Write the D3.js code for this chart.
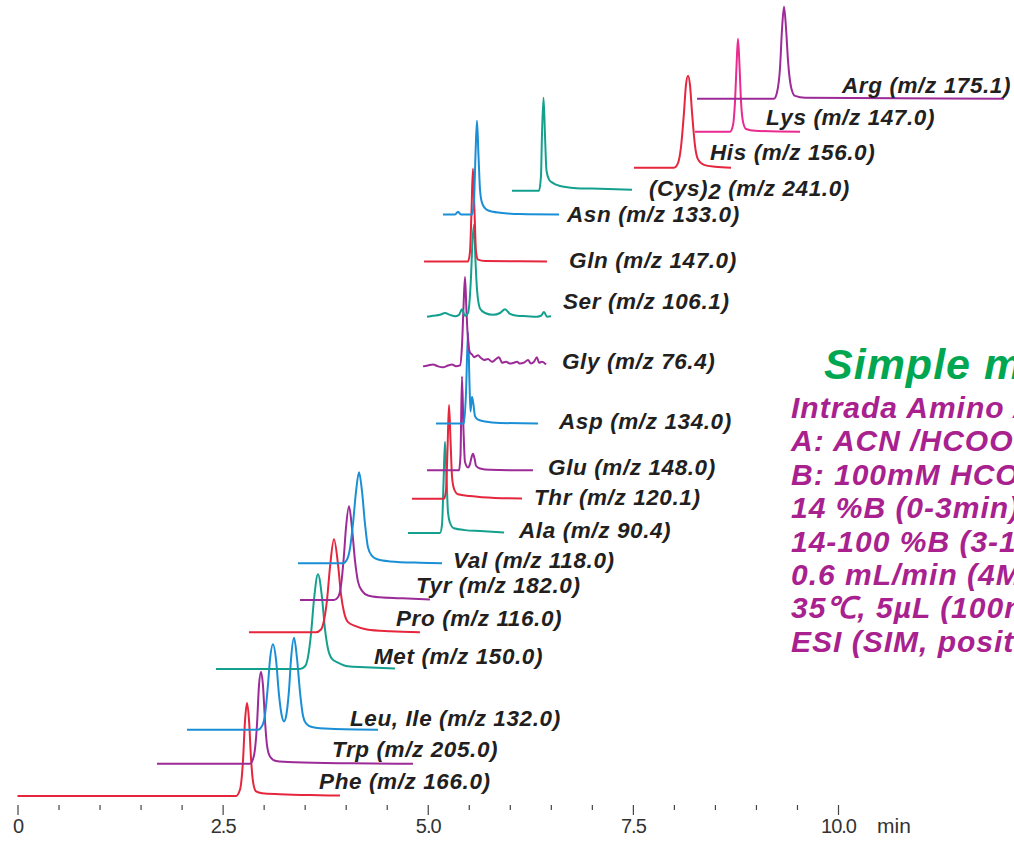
<!DOCTYPE html>
<html>
<head>
<meta charset="utf-8">
<script src="https://cdn.jsdelivr.net/npm/d3@7"></script>
<style>
  body { margin: 0; background: #fff; }
  svg { display: block; overflow: hidden; }
</style>
</head>
<body>
<svg id="chart" width="1014" height="841"></svg>
<script>
// ---- data (time in min, intensity in % of full scale) ----
const compounds = ["Phe", "Trp", "Leu, Ile", "Met", "Pro", "Tyr", "Val", "Ala", "Thr", "Glu",
                   "Asp", "Gly", "Ser", "Gln", "Asn", "(Cys)2", "His", "Lys", "Arg"];
const mzValues = ["166.0", "205.0", "132.0", "150.0", "116.0", "182.0", "118.0", "90.4", "120.1", "148.0",
                  "134.0", "76.4", "106.1", "147.0", "133.0", "241.0", "156.0", "147.0", "175.1"];
// stacking offset of each trace, same units as intensity
const baselineOffsets = [0, 35, 72, 138, 178, 213, 253, 286, 323, 354,
                         405, 467, 521, 581, 632, 658, 683, 722, 758];

const phe = [[0.0,0],[2.663,0],[2.712,7],[2.748,38],[2.773,82],[2.797,101],[2.822,82],[2.846,41],[2.870,16],[2.907,5],[2.980,3],[3.199,2],[3.565,1],[3.931,0.5]];
const trp = [[1.700,0],[2.834,0],[2.882,9],[2.919,43],[2.943,85],[2.968,100],[2.992,85],[3.017,46],[3.041,20],[3.077,8],[3.151,3],[3.382,1.6],[4.052,0.5],[4.820,0]];
const leuIle = [[2.066,0],[2.931,0],[2.980,4],[3.016,16],[3.053,49],[3.077,76],[3.114,93],[3.151,76],[3.187,38],[3.224,14],[3.248,9],[3.272,14],[3.309,43],[3.333,76],[3.370,100],[3.406,78],[3.443,41],[3.480,15],[3.516,7],[3.589,3],[3.809,1],[4.394,0]];
const met = [[2.419,0],[3.443,0],[3.504,3],[3.540,13],[3.577,38],[3.614,76],[3.662,103],[3.711,78],[3.748,43],[3.784,22],[3.833,11],[3.906,7],[4.028,3],[4.235,2],[4.601,0.5]];
const pro = [[2.821,0],[3.638,0],[3.699,3],[3.736,13],[3.772,35],[3.809,71],[3.857,101],[3.906,74],[3.943,41],[3.979,22],[4.028,11],[4.113,7],[4.259,3],[4.540,1],[4.905,0]];
const tyr = [[3.443,0],[3.857,0],[3.906,3],[3.943,16],[3.979,49],[4.003,78],[4.040,102],[4.077,78],[4.113,43],[4.150,20],[4.199,10],[4.272,5],[4.418,3],[4.662,2],[5.027,0.5]];
const val = [[3.419,0],[3.967,0],[4.016,4],[4.052,16],[4.089,43],[4.126,78],[4.162,99],[4.199,78],[4.235,43],[4.272,17],[4.320,8],[4.394,4],[4.540,2],[4.905,0.5],[5.174,0]];
const ala = [[4.759,0],[5.149,0],[5.174,9],[5.192,54],[5.210,99],[5.229,60],[5.247,22],[5.271,11],[5.320,5],[5.454,3],[5.637,2],[5.930,0.5]];
const thr = [[4.808,0],[5.198,0],[5.222,9],[5.241,54],[5.259,102],[5.277,65],[5.296,24],[5.320,11],[5.369,5],[5.515,3],[5.820,1],[6.149,0.5]];
const glu = [[4.991,0],[5.381,0],[5.399,16],[5.417,102],[5.436,43],[5.454,9],[5.491,3],[5.515,7],[5.533,14],[5.551,18],[5.570,13],[5.588,5],[5.637,2],[5.759,0.5],[6.283,0]];
const asp = [[5.100,0],[5.442,0],[5.466,33],[5.491,99],[5.509,43],[5.521,13],[5.539,29],[5.558,20],[5.576,8],[5.613,4],[5.698,2],[5.881,0.5],[6.344,0]];
const gly = [[4.942,0],[5.003,1],[5.064,2],[5.125,0],[5.186,-1],[5.247,1],[5.296,2],[5.344,0],[5.393,1],[5.417,22],[5.436,65],[5.454,97],[5.472,60],[5.491,28],[5.515,15],[5.539,13],[5.564,10],[5.588,11],[5.613,12],[5.649,9],[5.686,7],[5.735,8],[5.783,5],[5.832,8],[5.868,10],[5.905,4],[5.954,5],[6.002,3],[6.051,4],[6.088,5],[6.124,3],[6.173,4],[6.222,7],[6.258,3],[6.295,5],[6.331,10],[6.356,4],[6.392,5],[6.441,2]];
const ser = [[4.991,0],[5.064,1],[5.149,2],[5.210,4],[5.271,2],[5.332,0.5],[5.381,2],[5.417,8],[5.454,1],[5.491,4],[5.527,43],[5.545,82],[5.564,100],[5.582,60],[5.600,30],[5.637,9],[5.698,4],[5.796,2],[5.881,4],[5.942,8],[6.002,3],[6.088,1],[6.210,0.5],[6.331,0],[6.380,1],[6.417,5],[6.453,0],[6.502,0.5]];
const gln = [[4.955,0],[5.491,0],[5.515,11],[5.533,54],[5.551,101],[5.570,54],[5.588,11],[5.613,2],[5.698,0.5],[6.453,0]];
const asn = [[5.186,0],[5.332,0],[5.369,3],[5.405,0],[5.539,0],[5.564,16],[5.582,65],[5.600,102],[5.618,65],[5.637,27],[5.661,13],[5.722,5],[5.795,3],[5.881,2],[6.124,0.5],[6.600,0]];
const cys2 = [[6.027,0],[6.356,0],[6.380,16],[6.392,60],[6.411,101],[6.429,60],[6.447,22],[6.478,12],[6.514,9],[6.612,5],[6.770,3],[7.099,2],[7.489,1]];
const his = [[7.514,0],[8.001,0],[8.050,5],[8.086,22],[8.123,60],[8.147,90],[8.172,100],[8.196,90],[8.221,60],[8.257,24],[8.294,9],[8.367,3],[8.501,1],[8.696,0]];
const lys = [[8.257,0],[8.684,0],[8.720,7],[8.745,33],[8.763,71],[8.781,101],[8.800,71],[8.818,33],[8.842,11],[8.879,3],[8.989,1],[9.537,0]];
const arg = [[8.282,0],[9.220,0],[9.257,7],[9.293,33],[9.318,76],[9.342,100],[9.367,76],[9.391,41],[9.427,13],[9.476,3],[9.598,1],[12.023,0]];

const traces = [phe, trp, leuIle, met, pro, tyr, val, ala, thr, glu, asp, gly, ser, gln, asn, cys2, his, lys, arg];

const majorTicks = [0, 2.5, 5, 7.5, 10];
const tickLabels = ["0", "2.5", "5.0", "7.5", "10.0"];
const minorTicks = [0.5, 1, 1.5, 2, 3, 3.5, 4, 4.5, 5.5, 6, 6.5, 7, 8, 8.5, 9, 9.5];

const conditionTitle = "Simple method";
const conditionLines = [
  "Intrada Amino Acid",
  "A: ACN /HCOOH",
  "B: 100mM HCOONH4",
  "14 %B (0-3min)",
  "14-100 %B (3-10min)",
  "0.6 mL/min (4MPa)",
  "35\u2103, 5\u00b5L (100nmol/mL)",
  "ESI (SIM, positive)"
];

// ---- layout / style ----
const red = "#e5263d", purple = "#9c2b98", blue = "#1b8fd6", teal = "#14a08e", pink = "#ea2a8e";
const traceColors = [red, purple, blue, teal, red, purple, blue, teal, red, purple,
                     blue, purple, teal, red, blue, teal, red, pink, purple];
// label start (min) and text-baseline shift from trace baseline (px)
const labelAt = [3.675, 3.833, 4.052, 4.345, 4.613, 4.857, 5.308, 6.112, 6.295, 6.466,
                 6.600, 6.636, 6.648, 6.722, 6.697, 7.696, 8.440, 9.122, 10.049];
const labelDy = [-7, -7, -4, -5, -6, -7, 5, 5, 6, 5, 6, 3, -8, 7, 7, 5, -8, -7, -6];

const fontFamily = "'Liberation Sans', Arial, sans-serif";

const svg = d3.select("#chart");

const x = d3.scaleLinear().domain([0, 10]).range([17.5, 838]);
const y = d3.scaleLinear().domain([0, 100]).range([796, 704]);

// traces
traces.forEach((data, i) => {
    const off = baselineOffsets[i];
    const line = d3.line()
        .x(d => x(d[0]))
        .y(d => y(d[1] + off))
        .curve(d3.curveMonotoneX);

    svg.append("path")
        .datum(data)
        .attr("fill", "none")
        .attr("stroke", traceColors[i])
        .attr("stroke-width", 2)
        .attr("stroke-linejoin", "round")
        .attr("d", line);
});

// trace labels
compounds.forEach((name, i) => {
    const t = svg.append("text")
        .attr("x", x(labelAt[i]))
        .attr("y", y(baselineOffsets[i]) + labelDy[i])
        .attr("font-family", fontFamily)
        .attr("font-size", 22.5)
        .attr("letter-spacing", 0.6)
        .attr("font-weight", "bold")
        .attr("font-style", "italic")
        .attr("fill", "#231f20");
    const m = name.match(/^(.*\))(\d)$/);
    if (m) {
        t.append("tspan").text(m[1]);
        t.append("tspan").attr("dy", 3).text(m[2]);
        t.append("tspan").attr("dy", -3).text(` (m/z ${mzValues[i]})`);
    } else {
        t.text(`${name} (m/z ${mzValues[i]})`);
    }
});

// time axis
const axisG = svg.append("g").attr("transform", "translate(0,805)");

axisG.append("g")
    .call(d3.axisBottom(x).tickValues(minorTicks).tickSize(5).tickFormat(""));

axisG.append("g")
    .call(d3.axisBottom(x).tickValues(majorTicks).tickSize(10)
        .tickFormat((d, i) => tickLabels[i]));

axisG.selectAll(".domain").remove();
axisG.selectAll(".tick line").attr("stroke", "#444").attr("stroke-width", 1.2);
axisG.selectAll(".tick text")
    .attr("y", 28)
    .attr("dy", 0)
    .attr("font-family", fontFamily)
    .attr("font-size", 20)
    .attr("letter-spacing", -1)
    .attr("fill", "#333");

svg.append("text")
    .attr("x", 877)
    .attr("y", 833)
    .attr("font-family", fontFamily)
    .attr("font-size", 21)
    .attr("fill", "#333")
    .text("min");

// conditions block
svg.append("text")
    .attr("x", 824)
    .attr("y", 379)
    .attr("font-family", fontFamily)
    .attr("font-size", 43)
    .attr("letter-spacing", 1)
    .attr("font-weight", "bold")
    .attr("font-style", "italic")
    .attr("fill", "#00a650")
    .text(conditionTitle);

svg.selectAll(".cond")
    .data(conditionLines)
    .enter()
    .append("text")
    .attr("class", "cond")
    .attr("x", 791)
    .attr("y", (d, i) => 418 + i * 33.4)
    .attr("font-family", fontFamily)
    .attr("font-size", 30)
    .attr("letter-spacing", 1)
    .attr("font-weight", "bold")
    .attr("font-style", "italic")
    .attr("fill", "#a8218e")
    .text(d => d);
</script>
</body>
</html>
